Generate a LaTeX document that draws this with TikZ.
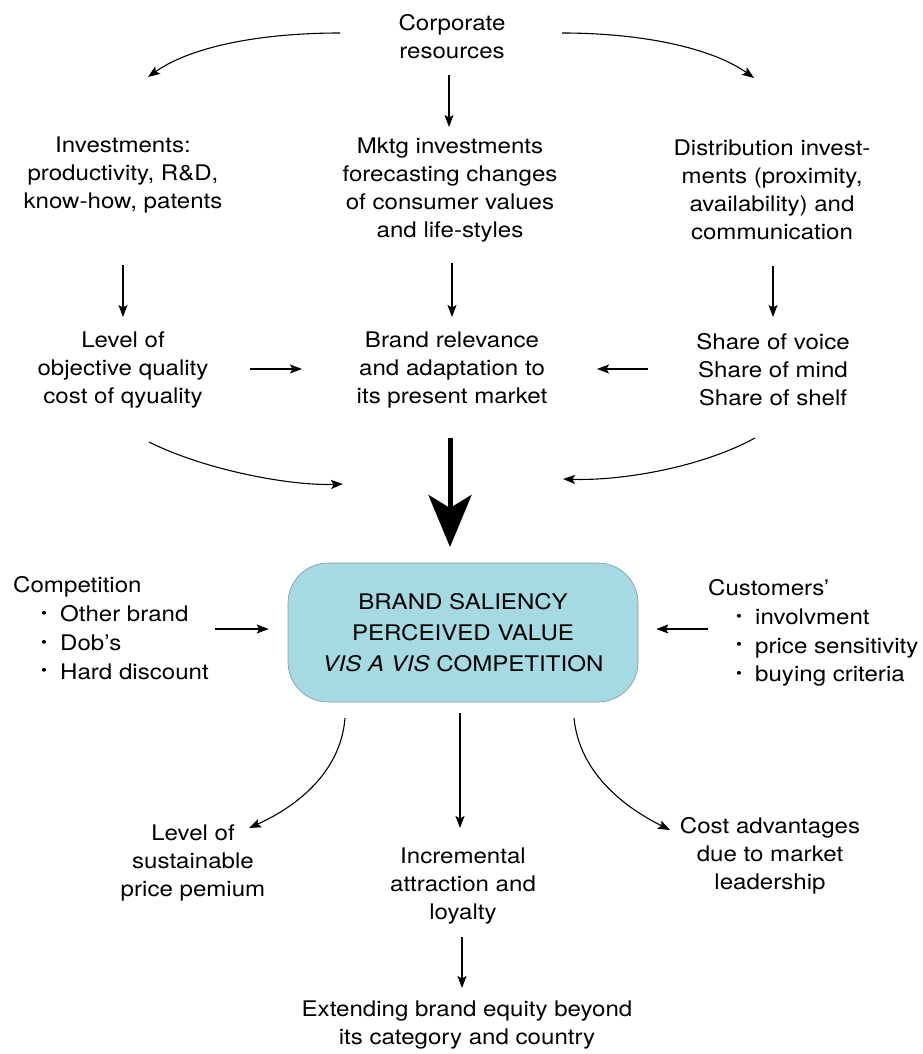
\documentclass[tikz,border=0pt]{standalone}
\usepackage{fontspec}
\setmainfont{TeX Gyre Heros}[FakeStretch=1.12]
\usetikzlibrary{arrows.meta,calc}
\definecolor{boxfill}{RGB}{166,218,226}
\definecolor{boxline}{RGB}{130,150,155}
\newcommand\bul{\makebox[19pt][l]{\raisebox{0.28ex}{\scalebox{0.7}{\textbullet}}}}
\begin{document}
\begin{tikzpicture}[x=1pt,y=-1pt,
  lbl/.style={align=center,inner sep=0pt,font=\fontsize{21.5}{28}\selectfont},
  lst/.style={align=left,inner sep=0pt,font=\fontsize{21.5}{28.8}\selectfont},
  arr/.style={-{Stealth[length=12pt,width=9pt,inset=2.5pt]},line width=1.1pt},
  bigarr/.style={-{Stealth[length=52pt,width=43pt,inset=13pt]},line width=5pt},
  core/.style={draw=boxline,fill=boxfill,rounded corners=40pt,line width=0.6pt,
    minimum width=350pt,minimum height=139pt,align=center,
    font=\fontsize{21.5}{31}\selectfont},
]
\useasboundingbox (0,0) rectangle (922,1054);

% top source
\node[lbl] (corp) at (452,37) {Corporate\\resources};

% first row of investments
\node[lbl] (inv)  at (123,175) {Investments:\\productivity, R\&D,\\know-how, patents};
\node[lbl] (mktg) at (450,190) {Mktg investments\\forecasting changes\\of consumer values\\and life-styles};
\node[lbl] (dist) at (772,190) {Distribution invest-\\ments (proximity,\\availability) and\\communication};

% second row
\node[lbl] (qual)  at (123,370) {Level of\\objective quality\\cost of qyuality};
\node[lbl] (rel)   at (452,370) {Brand relevance\\and adaptation to\\its present market};
\node[lbl] (share) at (773,370) {Share of voice\\Share of mind\\Share of shelf};

% central box
\node[core] (box) at (463,632.5) {BRAND SALIENCY\\PERCEIVED VALUE\\\textit{VIS A VIS} COMPETITION};

% side influences
\node[lst,anchor=west] (comp) at (13,628) {Competition\\
  \hspace*{28pt}\bul Other brand\\
  \hspace*{28pt}\bul Dob's\\
  \hspace*{28pt}\bul Hard discount};
\node[lst,anchor=west] (cust) at (708,633) {Customers'\\
  \hspace*{28pt}\bul involvment\\
  \hspace*{28pt}\bul price sensitivity\\
  \hspace*{28pt}\bul buying criteria};

% outcomes
\node[lbl] (prem) at (193,863) {Level of\\sustainable\\price pemium};
\node[lbl] (incr) at (463,886) {Incremental\\attraction and\\loyalty};
\node[lbl] (cost) at (770,856) {Cost advantages\\due to market\\leadership};
\node[lbl] (ext)  at (467,1025) {Extending brand equity beyond\\its category and country};

% connectors from the corporate resources
\draw[arr] ($(corp)+(-112,-4)$) .. controls (262,33) and (192,46) .. ($(inv)+(25,-98)$);
\draw[arr] ($(corp)+(110,-4)$) .. controls (642,33) and (712,48) .. ($(dist)+(-18,-112)$);
\draw[arr] ($(corp)+(-3,38)$) -- ($(mktg)+(-1,-63)$);

% investments to second row
\draw[arr] ($(inv)+(0,90)$) -- ($(qual)+(0,-53)$);
\draw[arr] ($(mktg)+(2,73)$) -- ($(rel)+(0,-53)$);
\draw[arr] ($(dist)+(1,76)$) -- ($(share)+(0,-53)$);

% horizontal feeds into brand relevance
\draw[arr] ($(qual)+(127,-1)$) -- ($(rel)+(-150,-1)$);
\draw[arr] ($(share)+(-125,-1)$) -- ($(rel)+(145,-1)$);

% converging arrows towards the central box
\draw[arr] ($(qual)+(26,72)$) .. controls (205,470) and (290,486) .. ($(box)+(-120,-148.5)$);
\draw[arr] ($(share)+(-18,68)$) .. controls (700,468) and (620,481) .. ($(box)+(100,-153.5)$);
\draw[bigarr] ($(rel)+(-2,68)$) -- ($(box)+(-13,-85.5)$);

% side influences
\draw[arr] ($(comp.east)+(6,1)$) -- ($(box.west)+(-19,-3.5)$);
\draw[arr] ($(cust.west)+(0,-4)$) -- ($(box.east)+(18,-3.5)$);

% outcomes of the central box
\draw[arr] ($(box)+(-118,85.5)$) .. controls (341,770) and (300,805) .. ($(prem)+(56,-35)$);
\draw[arr] ($(box)+(-3,80.5)$) -- ($(incr)+(-3,-58)$);
\draw[arr] ($(box)+(111,85.5)$) .. controls (579,770) and (620,805) .. ($(cost)+(-100,-26)$);
\draw[arr] ($(incr)+(-1,51)$) -- ($(ext)+(-5,-37)$);
\end{tikzpicture}
\end{document}
